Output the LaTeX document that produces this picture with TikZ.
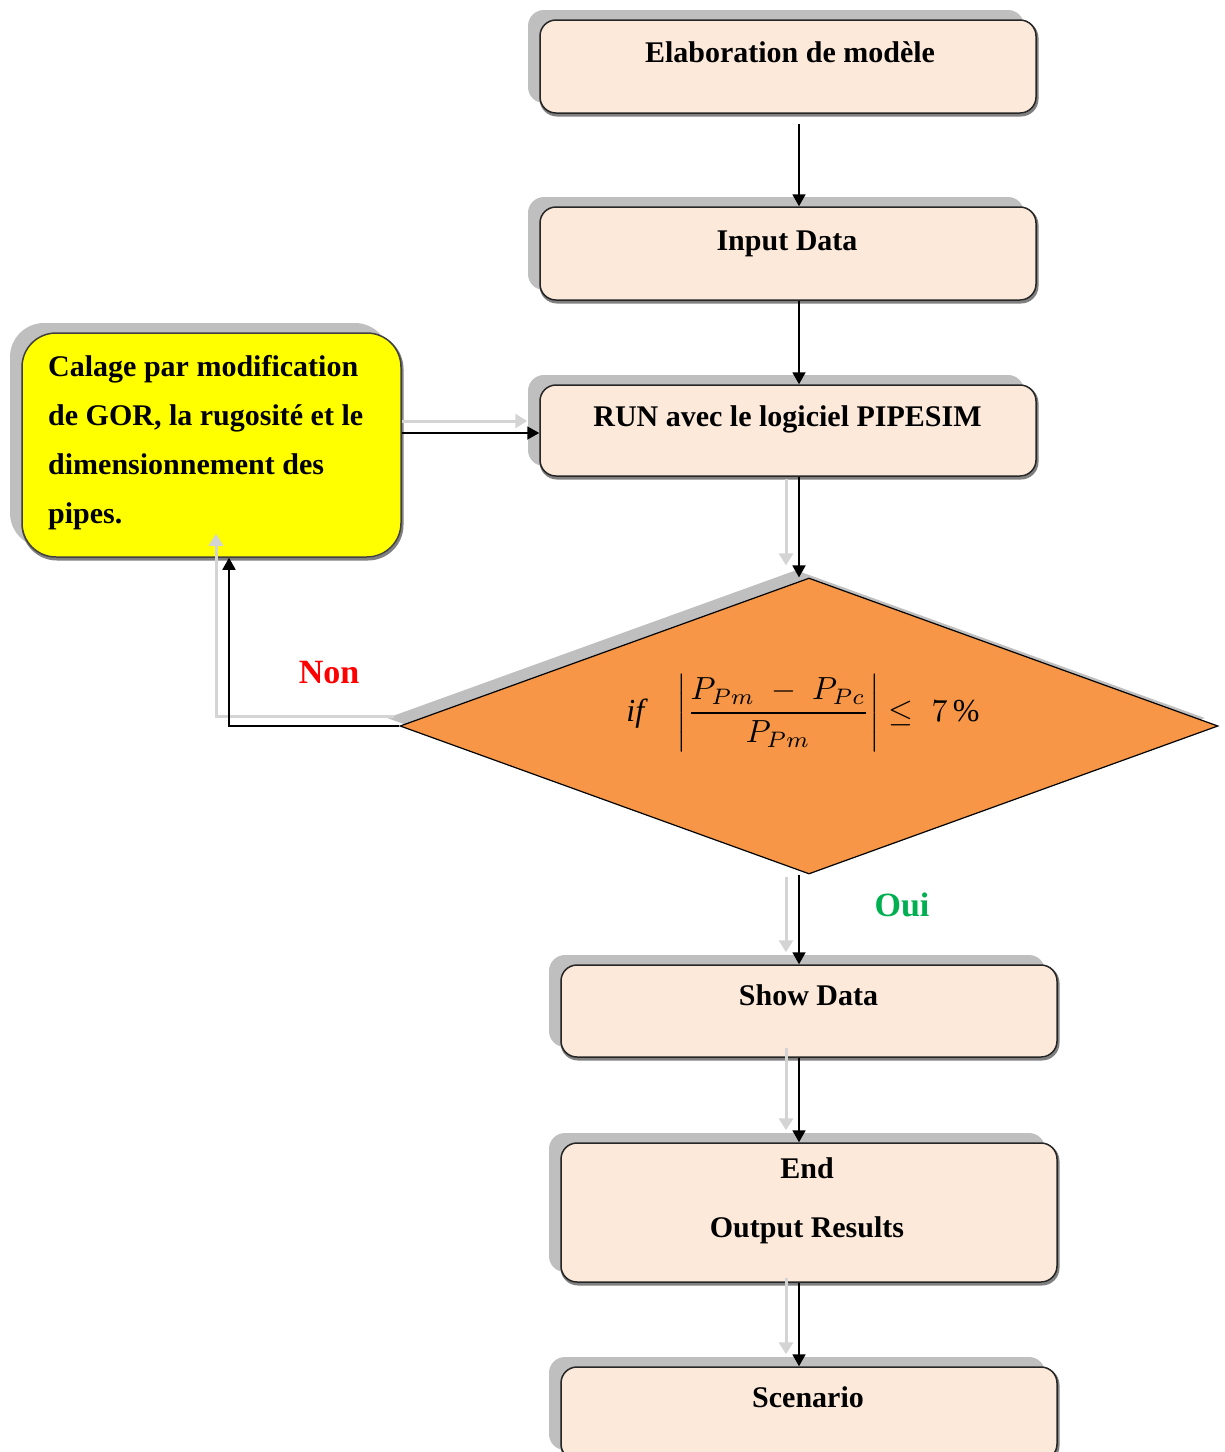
\documentclass[tikz,border=0pt]{standalone}
\usepackage{fontspec}
\setmainfont{Liberation Serif}
\usetikzlibrary{shapes.geometric,arrows.meta,shadows}
\definecolor{boxfill}{HTML}{FCE9DA}
\definecolor{diafill}{HTML}{F79646}
\definecolor{shlight}{HTML}{BFBFBF}
\definecolor{shdark}{HTML}{808080}
\definecolor{ghostc}{HTML}{D4D4D4}
\definecolor{ouigreen}{HTML}{00B050}
\definecolor{yelfill}{HTML}{FFFF00}
\tikzset{
  boxst/.style={draw=black!85, line width=1.5pt, fill=boxfill, rounded corners=16pt,
    minimum width=496pt, inner sep=0pt,
    general shadow={fill=shlight, shadow xshift=-12pt, shadow yshift=10pt},
    general shadow={draw=shdark, line width=3pt, shadow xshift=1pt, shadow yshift=-2pt}},
  yelst/.style={draw=black!75, line width=1.5pt, fill=yelfill, rounded corners=34pt,
    minimum width=379pt, minimum height=224pt, inner sep=0pt,
    general shadow={fill=shlight, shadow xshift=-12pt, shadow yshift=10pt},
    general shadow={draw=shdark, line width=3pt, shadow xshift=1pt, shadow yshift=-2pt}},
  diast/.style={diamond, draw=black, line width=1.2pt, fill=diafill, inner sep=0pt,
    minimum width=818pt, minimum height=296pt,
    general shadow={fill=shlight, shadow xshift=-13pt, shadow yshift=8pt}},
  txt/.style={font=\fontsize{30}{36}\selectfont\bfseries, anchor=base, inner sep=0pt},
  arr/.style={draw=black, line width=1.8pt, -{Triangle[width=13pt,length=12pt]}},
  ghost/.style={draw=ghostc, line width=3pt, -{Triangle[width=14pt,length=12pt]}}
}
\begin{document}
\begin{tikzpicture}[x=1pt,y=-1pt]
\useasboundingbox (0,0) rectangle (1225,1452);
\coordinate (col) at (799,0);
\coordinate (gcol) at (786,0);
% boxes
\node[boxst, minimum height=93pt] (elab) at (788,66.5) {};
\node[boxst, minimum height=93pt] (input) at (788,253.5) {};
\node[boxst, minimum height=91pt] (run) at (788,430.5) {};
\node[yelst] (yel) at (211.5,445) {};
\node[diast] (dia) at (809,726) {};
\node[boxst, minimum height=92pt] (show) at (809,1011) {};
\node[boxst, minimum height=139pt] (endb) at (809,1212.5) {};
\node[boxst, minimum height=93pt] (scen) at (809,1413.5) {};
% texts
\node[txt] (elabt) at (790,62) {Elaboration de modèle};
\node[txt] (inputt) at (787,250) {Input Data};
\node[txt] (runt) at (787.5,426) {RUN avec le logiciel PIPESIM};
\node[txt] (showt) at (808.5,1005) {Show Data};
\node[txt] (endt) at (807,1178) {End};
\node[txt] (outt) at (807,1237) {Output Results};
\node[txt] (scent) at (808,1407) {Scenario};
\node[font=\fontsize{30}{49}\selectfont\bfseries, align=left, anchor=north west, inner sep=0pt]
  (yelt) at (48,355) {Calage par modification\\de GOR, la rugosité et le\\dimensionnement des\\pipes.};
\node[scale=3.2, inner sep=0pt] (math) at (803,713)
  {$\mathit{if}\;\;\;\left|\displaystyle\frac{P_{Pm}\;-\;P_{Pc}}{P_{Pm}}\vphantom{\frac{P_{P_P}}{P_{P_P}}}\right|\le\;7\,\%$};
\node[font=\fontsize{34}{40}\selectfont\bfseries, text=red, anchor=base, inner sep=0pt] (non) at (329,683) {Non};
\node[font=\fontsize{34}{40}\selectfont\bfseries, text=ouigreen, anchor=base, inner sep=0pt] (oui) at (902,916) {Oui};
% ghost connectors
\draw[ghost] ([yshift=24pt]yel.east) -- ([yshift=24pt,xshift=-12pt]yel.east -| run.west);
\draw[ghost] ([yshift=-2pt]run.south -| gcol) -- ([yshift=12pt]dia.north -| gcol);
\draw[ghost] ([yshift=-2pt]dia.south -| gcol) -- ([yshift=12pt]show.north -| gcol);
\draw[ghost] ([yshift=10pt]show.south -| gcol) -- ([yshift=12pt]endb.north -| gcol);
\draw[ghost] ([yshift=5pt]endb.south -| gcol) -- ([yshift=12pt]scen.north -| gcol);
\draw[ghost] ([xshift=-5pt,yshift=10pt]dia.west) -| ([xshift=4.5pt,yshift=24pt]yel.south);
% connectors
\draw[arr] ([yshift=-10pt]elab.south -| col) -- (input.north -| col);
\draw[arr] (input.south -| col) -- (run.north -| col);
\draw[arr] (run.south -| col) -- (dia.north -| col);
\draw[arr] (dia.south -| col) -- (show.north -| col);
\draw[arr] (show.south -| col) -- (endb.north -| col);
\draw[arr] (endb.south -| col) -- (scen.north -| col);
\draw[arr] ([yshift=12pt]yel.east) -- ([yshift=12pt]yel.east -| run.west);
\draw[arr] (dia.west) -| ([xshift=17.5pt]yel.south);
\end{tikzpicture}
\end{document}
